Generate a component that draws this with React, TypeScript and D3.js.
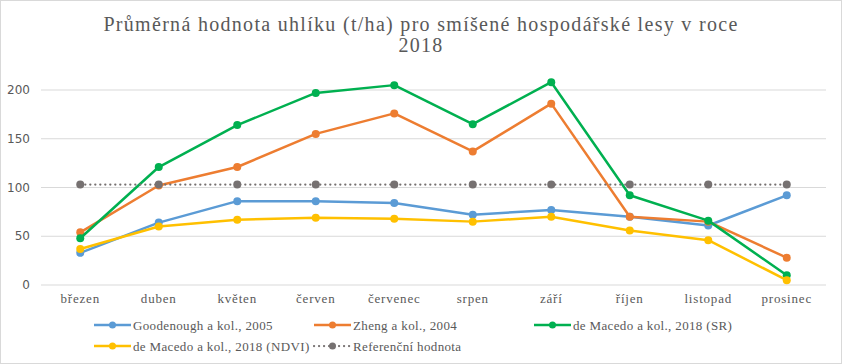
import React from "react";
import * as d3 from "d3";

const months = ["březen", "duben", "květen", "červen", "červenec", "srpen", "září", "říjen", "listopad", "prosinec"];

const goodenough = [33, 64, 86, 86, 84, 72, 77, 70, 61, 92];
const zheng = [54, 102, 121, 155, 176, 137, 186, 70, 65, 28];
const macedoSR = [48, 121, 164, 197, 205, 165, 208, 92, 66, 10];
const macedoNDVI = [37, 60, 67, 69, 68, 65, 70, 56, 46, 5];
const reference = [103, 103, 103, 103, 103, 103, 103, 103, 103, 103];

const yTicks = [0, 50, 100, 150, 200];

type Series = { name: string; values: number[]; color: string; dotted?: boolean };

const series: Series[] = [
    { name: "Goodenough a kol., 2005", values: goodenough, color: "#5B9BD5" },
    { name: "Zheng a kol., 2004", values: zheng, color: "#ED7D31" },
    { name: "de Macedo a kol., 2018 (SR)", values: macedoSR, color: "#00B050" },
    { name: "de Macedo a kol., 2018 (NDVI)", values: macedoNDVI, color: "#FFC000" },
    { name: "Referenční hodnota", values: reference, color: "#767171", dotted: true },
];

const W = 842;
const H = 364;
const plot = { left: 41, right: 826, top: 90, bottom: 285 };

export default function App() {
    const x = d3.scalePoint<string>()
        .domain(months)
        .range([plot.left, plot.right])
        .padding(0.5);
    const y = d3.scaleLinear()
        .domain([0, 200])
        .range([plot.bottom, plot.top]);

    const line = d3.line<number>()
        .x((d, i) => x(months[i]) ?? 0)
        .y(d => y(d));

    const serif = "'Liberation Serif', serif";
    const legendPos = [[94, 325], [314, 325], [534, 325], [94, 346], [314, 346]];

    return <div style={{ position: "fixed", left: 0, top: 0 }}>
        <svg width={W} height={H} style={{ display: "block" }}>
            <rect x={0.5} y={0.5} width={W - 1} height={H - 1} fill="#fff" stroke="#d9d9d9" />
            <text x={W / 2} y={31} textAnchor="middle" fontFamily={serif} fontSize={20} letterSpacing={1.3} fill="#595959">
                Průměrná hodnota uhlíku (t/ha) pro smíšené hospodářské lesy v roce
            </text>
            <text x={W / 2} y={52} textAnchor="middle" fontFamily={serif} fontSize={20} letterSpacing={1.3} fill="#595959">
                2018
            </text>
            {yTicks.map(t => <g key={t}>
                <line x1={plot.left} x2={plot.right} y1={y(t)} y2={y(t)} stroke="#d9d9d9" strokeWidth={1} />
                <text x={30} y={y(t) + 4} textAnchor="end" fontFamily="'DejaVu Sans', sans-serif" fontSize={12} fill="#595959">{t}</text>
            </g>)}
            {months.map(m => <text key={m} x={x(m)} y={303} textAnchor="middle" fontFamily={serif} fontSize={13} letterSpacing={0.8} fill="#595959">{m}</text>)}
            {series.map(s => <g key={s.name}>
                <path d={line(s.values) ?? ""} fill="none" stroke={s.color} strokeWidth={s.dotted ? 2.25 : 2.5}
                    strokeDasharray={s.dotted ? "0.1 4.9" : undefined} strokeLinecap={s.dotted ? "round" : "butt"} strokeLinejoin="round" />
                {s.values.map((v, i) => <circle key={i} cx={x(months[i])} cy={y(v)} r={4} fill={s.color} />)}
            </g>)}
            {series.map((s, i) => {
                const [lx, ly] = legendPos[i];
                return <g key={s.name}>
                    <line x1={lx} x2={lx + 37} y1={ly} y2={ly} stroke={s.color} strokeWidth={s.dotted ? 2.25 : 2.5}
                        strokeDasharray={s.dotted ? "0.1 4.9" : undefined} strokeLinecap={s.dotted ? "round" : "butt"} />
                    <circle cx={lx + 18.5} cy={ly} r={3.5} fill={s.color} />
                    <text x={lx + 39} y={ly + 4.5} fontFamily={serif} fontSize={13} letterSpacing={0.35} fill="#595959">{s.name}</text>
                </g>;
            })}
        </svg>
    </div>;
}
